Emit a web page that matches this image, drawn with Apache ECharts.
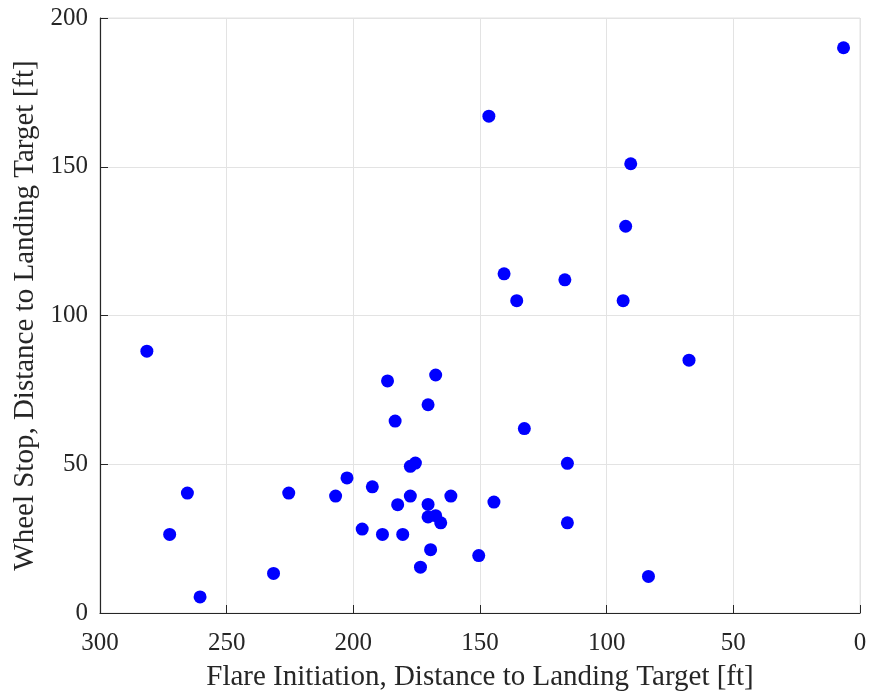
<!DOCTYPE html>
<html>
<head>
<meta charset="utf-8">
<script src="https://cdn.jsdelivr.net/npm/echarts@6/dist/echarts.min.js"></script>
<style>
  html, body { margin: 0; padding: 0; background: #fff; }
  #chart-container { width: 870px; height: 700px; }
</style>
</head>
<body>
<div id="chart-container"></div>
<script>
// flare initiation distance [ft] and wheel stop distance [ft], one entry per landing
const flareDist = [
  6.5, 146.5, 90.5, 92.5, 140.5, 116.5, 135.5, 93.5, 281.5, 67.5,
  186.5, 167.5, 170.5, 183.5, 132.5, 177.5, 175.5, 115.5, 202.5, 265.5,
  225.5, 207, 192.5, 177.5, 161.5, 182.5, 170.5, 144.5, 170.5, 167.5,
  165.5, 115.5, 196.5, 188.5, 180.5, 272.5, 169.5, 150.5, 173.5, 231.5,
  83.5, 260.5,
];
const wheelStop = [
  190, 167, 151, 130, 114, 112, 105, 105, 88, 85,
  78, 80, 70, 64.5, 62, 49.3, 50.4, 50.3, 45.4, 40.3,
  40.3, 39.3, 42.4, 39.3, 39.3, 36.4, 36.5, 37.3, 32.3, 32.7,
  30.3, 30.3, 28.2, 26.4, 26.4, 26.4, 21.3, 19.3, 15.4, 13.3,
  12.3, 5.4,
];

const fontFamily = "Liberation Serif";
const axisColor = "#262626";

const dom = document.getElementById("chart-container");
const myChart = echarts.init(dom, null, { renderer: "canvas" });

const option = {
  backgroundColor: "#ffffff",
  animation: false,
  grid: {
    left: 100,
    right: 10,
    top: 18,
    bottom: 87,
    show: true,
    borderColor: "#e2e2e2",
    borderWidth: 1,
  },
  xAxis: {
    type: "value",
    min: 0,
    max: 300,
    interval: 50,
    inverse: true,
    position: "bottom",
    name: "Flare Initiation, Distance to Landing Target [ft]",
    nameLocation: "middle",
    nameGap: 50,
    nameTextStyle: { fontFamily, fontSize: 29, color: axisColor },
    axisLine: { show: true, onZero: false, lineStyle: { color: axisColor, width: 1.2 } },
    axisTick: { show: true, inside: true, length: 8, lineStyle: { color: axisColor } },
    axisLabel: { fontFamily, fontSize: 25, color: axisColor, margin: 18 },
    splitLine: { show: true, lineStyle: { color: "#e3e3e3", width: 1 } },
  },
  yAxis: {
    type: "value",
    min: 0,
    max: 200,
    interval: 50,
    position: "left",
    name: "Wheel Stop, Distance to Landing Target [ft]",
    nameLocation: "middle",
    nameGap: 58,
    nameTextStyle: { fontFamily, fontSize: 29, color: axisColor },
    axisLine: { show: true, onZero: false, lineStyle: { color: axisColor, width: 1.2 } },
    axisTick: { show: true, inside: true, length: 8, lineStyle: { color: axisColor } },
    axisLabel: { fontFamily, fontSize: 25, color: axisColor, margin: 12 },
    splitLine: { show: true, lineStyle: { color: "#e3e3e3", width: 1 } },
  },
  series: [
    {
      type: "scatter",
      symbol: "circle",
      symbolSize: 13,
      itemStyle: { color: "#0000ff", opacity: 1 },
      data: flareDist.map((x, i) => [x, wheelStop[i]]),
    },
  ],
};

myChart.setOption(option);
window.addEventListener("resize", myChart.resize);
</script>
</body>
</html>
